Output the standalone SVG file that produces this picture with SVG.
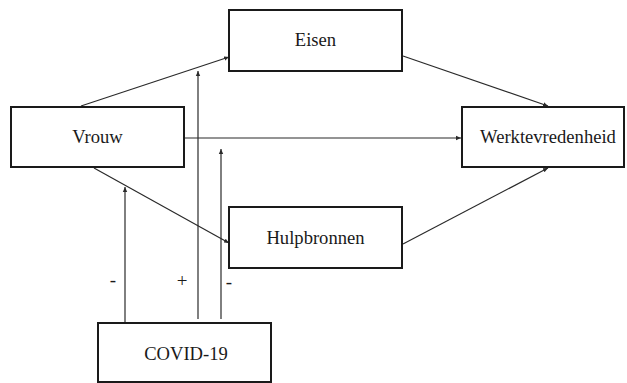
<svg xmlns="http://www.w3.org/2000/svg" width="627" height="383" viewBox="0 0 627 383">
<defs>
<style>
.box{fill:#fff;stroke:#1a1a1a;stroke-width:2}
.lbl{font-family:"Liberation Serif","Times New Roman",serif;font-size:18.6px;fill:#1a1a1a;text-anchor:middle}
.sgn{font-family:"Liberation Serif","Times New Roman",serif;font-size:19px;fill:#1a1a1a;text-anchor:middle}
.ln{fill:none;stroke:#2a2a2a;stroke-width:1.2}
.arr{marker-end:url(#ah)}
</style>
<marker id="ah" markerWidth="6" markerHeight="6" refX="5" refY="3" orient="auto" markerUnits="userSpaceOnUse">
<path d="M0,0.8 L5,3 L0,5.2 Z" fill="#2a2a2a"/>
</marker>
</defs>
<rect width="627" height="383" fill="#fff"/>
<g id="connectors">
<line class="ln arr" x1="81" y1="106" x2="229" y2="57"/>
<line class="ln arr" x1="185" y1="138" x2="461" y2="138"/>
<line class="ln arr" x1="94" y1="168" x2="229" y2="243"/>
<line class="ln arr" x1="403" y1="56" x2="548" y2="106"/>
<line class="ln arr" x1="403" y1="244" x2="548" y2="168"/>
<line class="ln arr" x1="125" y1="323" x2="125" y2="187"/>
<line class="ln arr" x1="198" y1="319" x2="198" y2="71"/>
<line class="ln arr" x1="221" y1="319" x2="221" y2="149"/>
<text class="sgn" x="113" y="286">-</text>
<text class="sgn" x="182" y="287">+</text>
<text class="sgn" x="229" y="288">-</text>
</g>
<g id="eisen">
<rect class="box" x="229" y="10" width="173" height="61"/>
<text class="lbl" x="315.5" y="46">Eisen</text>
</g>
<g id="vrouw">
<rect class="box" x="11" y="107" width="173" height="60"/>
<text class="lbl" x="97.5" y="143">Vrouw</text>
</g>
<g id="werktevredenheid">
<rect class="box" x="462" y="107" width="162" height="60"/>
<text class="lbl" x="548" y="143">Werktevredenheid</text>
</g>
<g id="hulpbronnen">
<rect class="box" x="229" y="207" width="173" height="61"/>
<text class="lbl" x="315.5" y="244">Hulpbronnen</text>
</g>
<g id="covid19">
<rect class="box" x="98" y="323" width="173" height="59"/>
<text class="lbl" x="186" y="360">COVID-19</text>
</g>
</svg>
